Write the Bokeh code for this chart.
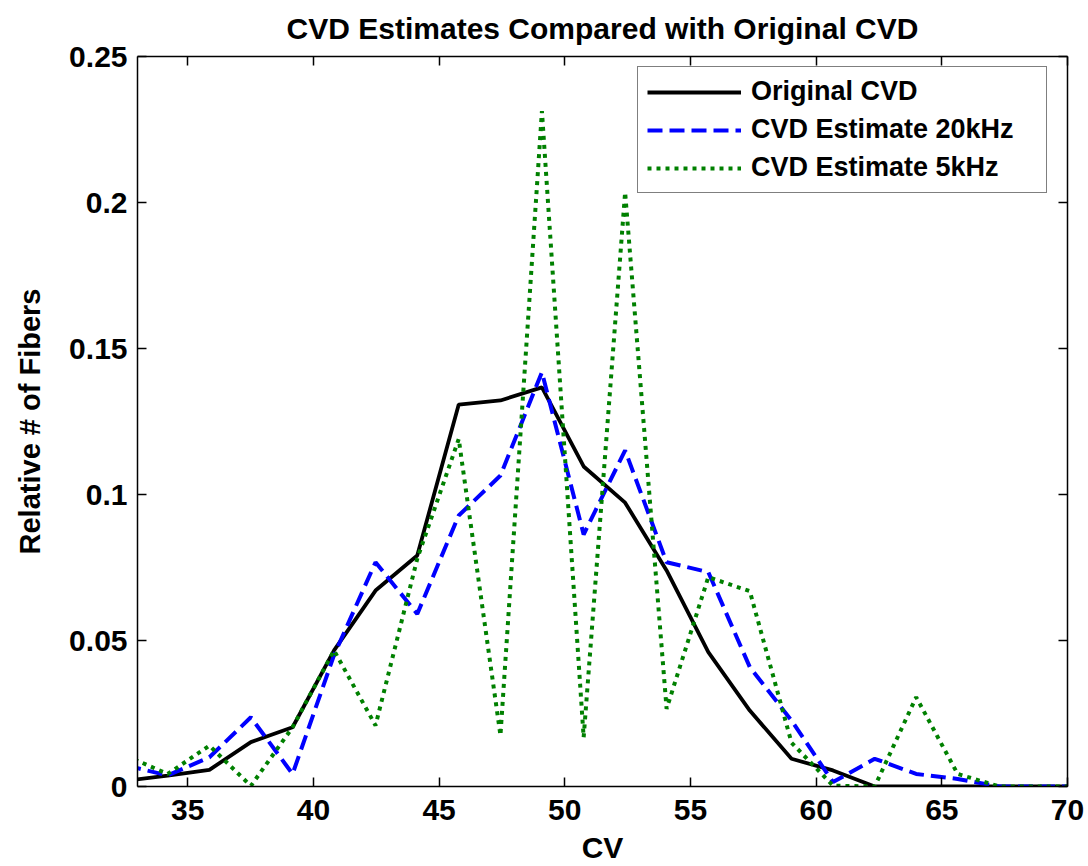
from bokeh.plotting import figure
from bokeh.models import Range1d, LinearAxis, FixedTicker, Legend, LegendItem
from bokeh.embed import file_html
from bokeh.resources import INLINE

# CV bin centres and relative fibre counts
cv = [32.55, 34.20, 35.86, 37.51, 39.17, 40.82, 42.47, 44.13, 45.78, 47.44, 49.09, 50.75,
      52.40, 54.05, 55.71, 57.36, 59.02, 60.67, 62.33, 63.98, 65.63, 67.29, 68.94, 70.60]
original_cvd = [0.0020, 0.0037, 0.0057, 0.0152, 0.0203, 0.0466, 0.0671, 0.0791, 0.1308, 0.1322,
                0.1367, 0.1096, 0.0972, 0.0740, 0.0460, 0.0260, 0.0095, 0.0055, 0.0, 0.0,
                0.0, 0.0, 0.0, 0.0]
estimate_20khz = [0.0072, 0.0038, 0.0100, 0.0237, 0.0043, 0.0450, 0.0768, 0.0591, 0.0928, 0.1065,
                  0.1419, 0.0863, 0.1151, 0.0768, 0.0734, 0.0409, 0.0226, 0.0015, 0.0095, 0.0043,
                  0.0026, 0.0, 0.0, 0.0]
estimate_5khz = [0.0105, 0.0043, 0.0140, 0.0002, 0.0203, 0.0466, 0.0209, 0.0780, 0.1190, 0.0175,
                 0.2313, 0.0168, 0.2035, 0.0266, 0.0717, 0.0669, 0.0150, 0.0003, 0.0, 0.0306,
                 0.0043, 0.0, 0.0, 0.0]

series_labels = ["Original CVD", "CVD Estimate 20kHz", "CVD Estimate 5kHz"]
x_ticks = [35, 40, 45, 50, 55, 60, 65, 70]
y_ticks = [0, 0.05, 0.1, 0.15, 0.2, 0.25]
y_tick_labels = ["0", "0.05", "0.1", "0.15", "0.2", "0.25"]

FONT = "Liberation Sans"

p = figure(width=1088, height=866, output_backend="svg", toolbar_location=None,
           x_range=Range1d(33, 70), y_range=Range1d(0, 0.25),
           min_border_left=137, min_border_right=21, min_border_top=56, min_border_bottom=80,
           title="CVD Estimates Compared with Original CVD")
p.background_fill_color = "white"
p.border_fill_color = "white"
p.outline_line_color = None
p.grid.visible = False

p.title.align = "center"
p.title.vertical_align = "top"
p.title.text_font = FONT
p.title.text_font_size = "30px"
p.title.text_font_style = "bold"
p.title.text_color = "black"
p.title.standoff = 20


def box_axis(ax, ticks):
    ax.ticker = FixedTicker(ticks=ticks)
    ax.axis_line_color = "black"
    ax.axis_line_width = 1.5
    ax.major_tick_in = 9
    ax.major_tick_out = 0
    ax.major_tick_line_color = "black"
    ax.major_tick_line_width = 1.5
    ax.minor_tick_line_color = None
    ax.major_label_text_font = FONT
    ax.major_label_text_font_style = "bold"
    ax.major_label_text_color = "black"
    ax.axis_label_text_font = FONT
    ax.axis_label_text_font_style = "bold"
    ax.axis_label_text_color = "black"


# bottom axis
xa = p.xaxis[0]
box_axis(xa, x_ticks)
xa.major_label_text_font_size = "30px"
xa.major_label_standoff = 13
xa.axis_label = "CV"
xa.axis_label_text_font_size = "30px"
xa.axis_label_standoff = 8

# left axis
ya = p.yaxis[0]
box_axis(ya, y_ticks)
ya.major_label_overrides = {t: s for t, s in zip(y_ticks, y_tick_labels)}
ya.major_label_text_font_size = "30px"
ya.major_label_standoff = 10
ya.axis_label = "Relative # of Fibers"
ya.axis_label_text_font_size = "29px"
ya.axis_label_standoff = 20

# mirrored axes closing the box (ticks only, no labels)
top = LinearAxis()
box_axis(top, x_ticks)
top.major_label_text_font_size = "1px"
top.major_label_text_color = None
top.major_label_standoff = 0
p.add_layout(top, "above")

right = LinearAxis()
box_axis(right, y_ticks)
right.major_label_text_font_size = "1px"
right.major_label_text_color = None
right.major_label_standoff = 0
p.add_layout(right, "right")

r_orig = p.line(cv, original_cvd, line_color="black", line_width=3.8)
r_20k = p.line(cv, estimate_20khz, line_color="#0000ff", line_width=4,
               line_dash="15 7", line_cap="butt")
r_5k = p.line(cv, estimate_5khz, line_color="#008000", line_width=4,
              line_dash="4 5", line_cap="butt")

legend = Legend(
    items=[LegendItem(label=series_labels[0], renderers=[r_orig]),
           LegendItem(label=series_labels[1], renderers=[r_20k]),
           LegendItem(label=series_labels[2], renderers=[r_5k])],
    location=(500, 593),
    label_text_font=FONT,
    label_text_font_size="27px",
    label_text_font_style="bold",
    label_text_color="black",
    glyph_width=94,
    glyph_height=30,
    label_height=30,
    label_width=286,
    label_standoff=10,
    spacing=7,
    padding=9,
    border_line_color="black",
    border_line_width=1.5,
    background_fill_color="white",
    background_fill_alpha=1.0,
)
p.add_layout(legend)

open("out.html", "w").write(file_html(p, INLINE))
